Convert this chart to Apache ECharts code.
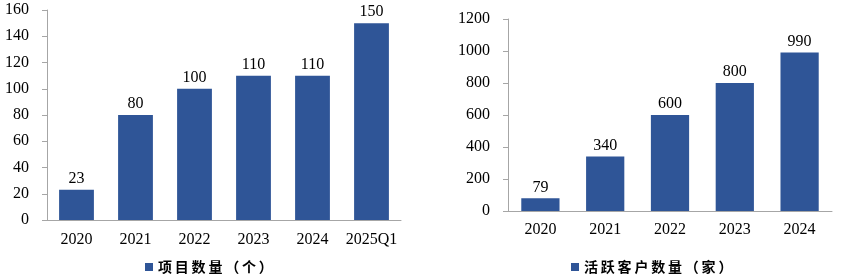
<!DOCTYPE html>
<html>
<head>
<meta charset="utf-8">
<script src="https://cdn.jsdelivr.net/npm/echarts@6/dist/echarts.min.js"></script>
<style>
html,body{margin:0;padding:0;background:#fff;}
#c{width:842px;height:280px;}
</style>
</head>
<body>
<div id="c"></div>
<script>
const leftCategories = ['2020','2021','2022','2023','2024','2025Q1'];
const leftValues = [23, 80, 100, 110, 110, 150];
const leftName = '项目数量（个）';
const leftTicks = {min: 0, max: 160, interval: 20};

const rightCategories = ['2020','2021','2022','2023','2024'];
const rightValues = [79, 340, 600, 800, 990];
const rightName = '活跃客户数量（家）';
const rightTicks = {min: 0, max: 1200, interval: 200};

const barColor = '#2F5597';
const axisColor = '#A6A6A6';
const serif = '"Liberation Serif", "Times New Roman", serif';
const cjk = '"Noto Sans CJK SC", sans-serif';

function xAxis(gi, cats, margin) {
  return {
    type: 'category', gridIndex: gi, data: cats,
    axisLine: {lineStyle: {color: axisColor, width: 1}},
    axisTick: {show: false},
    axisLabel: {color: '#000', fontFamily: serif, fontSize: 16, margin: margin, interval: 0}
  };
}
function yAxis(gi, t) {
  return {
    type: 'value', gridIndex: gi, min: t.min, max: t.max, interval: t.interval,
    axisLine: {show: true, lineStyle: {color: axisColor, width: 1}},
    axisTick: {show: true, length: 5, lineStyle: {color: axisColor}},
    splitLine: {show: false},
    axisLabel: {color: '#000', fontFamily: serif, fontSize: 16, margin: 18, formatter: v => String(v)}
  };
}
function series(name, gi, vals) {
  return {
    name: name, type: 'bar', xAxisIndex: gi, yAxisIndex: gi, data: vals,
    barWidth: '59%',
    itemStyle: {color: barColor},
    label: {show: true, position: 'top', distance: 3, color: '#000', fontFamily: serif, fontSize: 16}
  };
}
const spaced = name => name.split('').join('\u2009');
function legend(name, left) {
  return {data: [name], left: left, top: 255, icon: 'rect', itemWidth: 8, itemHeight: 8, itemGap: 4,
    formatter: spaced,
    textStyle: {fontFamily: cjk, fontSize: 14, fontWeight: 'bold', color: '#000'}};
}
const chart = echarts.init(document.getElementById('c'), null, {renderer: 'canvas'});
chart.setOption({
  animation: false,
  backgroundColor: '#fff',
  grid: [
    {left: 47, top: 10, right: 441, bottom: 60},
    {left: 508, top: 19, right: 10, bottom: 69}
  ],
  xAxis: [xAxis(0, leftCategories, 12), xAxis(1, rightCategories, 11)],
  yAxis: [yAxis(0, leftTicks), yAxis(1, rightTicks)],
  legend: [legend(leftName, 140), legend(rightName, 566)],
  series: [series(leftName, 0, leftValues), series(rightName, 1, rightValues)]
});
</script>
</body>
</html>
